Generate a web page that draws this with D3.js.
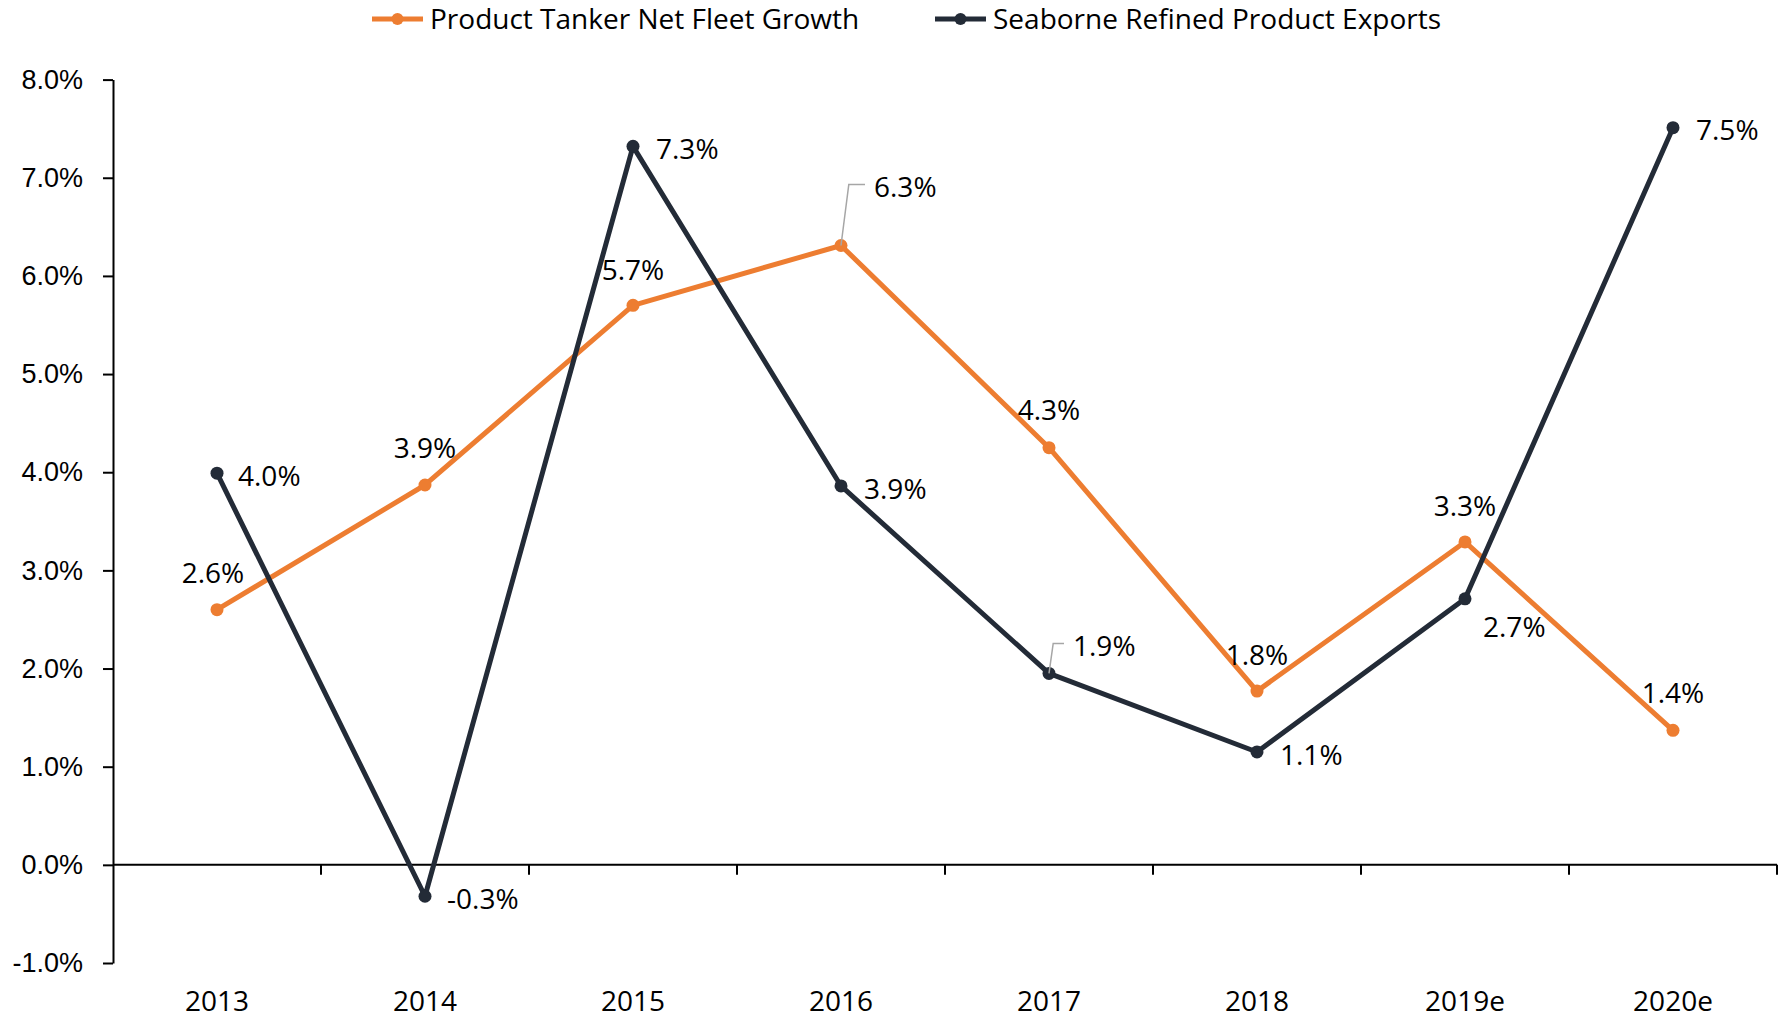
<!DOCTYPE html>
<html>
<head>
<meta charset="utf-8">
<script src="https://cdn.jsdelivr.net/npm/d3@7"></script>
<style>
  html, body { margin: 0; padding: 0; background: #fff; }
  svg { display: block; font-family: "Open Sans", sans-serif; }
</style>
</head>
<body>
<div id="chart"></div>
<script>
// Chart data
const categories = ['2013', '2014', '2015', '2016', '2017', '2018', '2019e', '2020e'];
const fleetGrowth = [2.6, 3.87, 5.7, 6.31, 4.25, 1.77, 3.29, 1.37];
const fleetLabels = ['2.6%', '3.9%', '5.7%', '6.3%', '4.3%', '1.8%', '3.3%', '1.4%'];
const exportsGrowth = [3.99, -0.32, 7.32, 3.86, 1.95, 1.15, 2.71, 7.51];
const exportsLabels = ['4.0%', '-0.3%', '7.3%', '3.9%', '1.9%', '1.1%', '2.7%', '7.5%'];
const yTicks = [-1, 0, 1, 2, 3, 4, 5, 6, 7, 8];
const seriesNames = ['Product Tanker Net Fleet Growth', 'Seaborne Refined Product Exports'];

const ORANGE = '#ED7D31';
const NAVY = '#232B37';

// Label placement (offsets from the point), leader = draw a callout line
const fleetLabelPos = [
  { dx: -4, dy: -36 }, { dx: 0, dy: -37 }, { dx: 0, dy: -35 },
  { dx: 33, dy: -58, anchor: 'start', leader: true },
  { dx: 0, dy: -37 }, { dx: 0, dy: -36 }, { dx: 0, dy: -36 }, { dx: 0, dy: -37 }
];
const exportsLabelPos = [
  { dx: 21, dy: 3 }, { dx: 22, dy: 3 }, { dx: 23, dy: 3 }, { dx: 23, dy: 3 },
  { dx: 24, dy: -27, leader: true },
  { dx: 23, dy: 3 }, { dx: 18, dy: 28 }, { dx: 23, dy: 3 }
];

const width = 1783, height = 1020;
const margin = { left: 113, right: 6, top: 79.6, bottom: 57 };

const svg = d3.select('#chart').append('svg')
  .attr('width', width)
  .attr('height', height);

const x = d3.scaleBand()
  .domain(categories)
  .range([margin.left, width - margin.right])
  .padding(0);
const cx = d => x(d) + x.bandwidth() / 2;

const y = d3.scaleLinear()
  .domain([-1, 8])
  .range([height - margin.bottom, margin.top]);

// Y axis
const yAxis = svg.append('g')
  .attr('transform', `translate(${margin.left},0)`)
  .call(d3.axisLeft(y)
    .tickValues(yTicks)
    .tickFormat(d => d.toFixed(1) + '%')
    .tickSize(10)
    .tickSizeOuter(0)
    .tickPadding(20));
yAxis.select('.domain').attr('stroke', '#000').attr('stroke-width', 2);
yAxis.selectAll('.tick line').attr('stroke', '#000').attr('stroke-width', 2);
yAxis.selectAll('.tick text')
  .attr('fill', '#000')
  .style('font-size', '27px');

// X axis along zero with ticks at category boundaries
const x0 = y(0);
svg.append('line')
  .attr('x1', margin.left).attr('x2', width - margin.right)
  .attr('y1', x0).attr('y2', x0)
  .attr('stroke', '#000').attr('stroke-width', 2);
svg.append('g').selectAll('line')
  .data(categories)
  .join('line')
  .attr('x1', d => x(d) + x.bandwidth()).attr('x2', d => x(d) + x.bandwidth())
  .attr('y1', x0).attr('y2', x0 + 10)
  .attr('stroke', '#000').attr('stroke-width', 2);
svg.append('g').selectAll('text')
  .data(categories)
  .join('text')
  .attr('x', cx)
  .attr('y', 1001)
  .attr('dy', '0.35em')
  .attr('text-anchor', 'middle')
  .style('font-size', '28px')
  .attr('fill', '#000')
  .text(d => d);

// Series lines
function drawSeries(values, color) {
  const line = d3.line()
    .x((d, i) => cx(categories[i]))
    .y(d => y(d));
  svg.append('path')
    .datum(values)
    .attr('d', line)
    .attr('fill', 'none')
    .attr('stroke', color)
    .attr('stroke-width', 5)
    .attr('stroke-linejoin', 'round');
  svg.append('g').selectAll('circle')
    .data(values)
    .join('circle')
    .attr('cx', (d, i) => cx(categories[i]))
    .attr('cy', d => y(d))
    .attr('r', 6.5)
    .attr('fill', color);
}

function drawLabels(values, labels, pos, defAnchor) {
  const g = svg.append('g');
  values.forEach((v, i) => {
    const px = cx(categories[i]), py = y(v);
    const p = pos[i];
    const anchor = p.anchor || defAnchor;
    const tx = px + p.dx, ty = py + p.dy;
    if (p.leader) {
      g.append('polyline')
        .attr('points', [[px, py], [px + (p.dx - 21) * 0.4 + 3, ty - 3], [tx - 9, ty - 3]].map(q => q.join(',')).join(' '))
        .attr('fill', 'none')
        .attr('stroke', '#A6A6A6')
        .attr('stroke-width', 1.5);
    }
    g.append('text')
      .attr('x', tx)
      .attr('y', ty)
      .attr('dy', '0.35em')
      .attr('text-anchor', anchor)
      .style('font-size', '28px')
      .attr('fill', '#000')
      .text(labels[i]);
  });
}

drawSeries(fleetGrowth, ORANGE);
drawSeries(exportsGrowth, NAVY);
drawLabels(fleetGrowth, fleetLabels, fleetLabelPos, 'middle');
drawLabels(exportsGrowth, exportsLabels, exportsLabelPos, 'start');

// Legend
const legend = svg.append('g');
const legendItems = [
  { name: seriesNames[0], color: ORANGE, x: 372 },
  { name: seriesNames[1], color: NAVY, x: 935 }
];
legendItems.forEach(it => {
  legend.append('line')
    .attr('x1', it.x).attr('x2', it.x + 51)
    .attr('y1', 19).attr('y2', 19)
    .attr('stroke', it.color).attr('stroke-width', 5);
  legend.append('circle')
    .attr('cx', it.x + 25.5).attr('cy', 19).attr('r', 6)
    .attr('fill', it.color);
  legend.append('text')
    .attr('x', it.x + 58).attr('y', 19)
    .attr('dy', '0.35em')
    .style('font-size', '28px')
    .attr('fill', '#000')
    .text(it.name);
});
</script>
</body>
</html>
